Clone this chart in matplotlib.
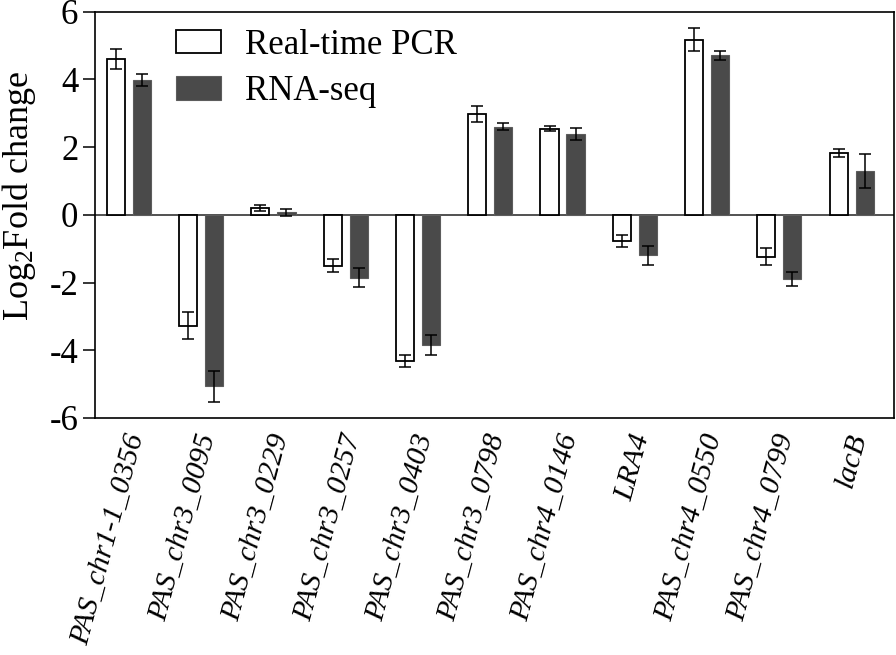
import numpy as np
import matplotlib
matplotlib.use('Agg')
import matplotlib.pyplot as plt

plt.rcParams['font.family'] = 'Liberation Serif'
plt.rcParams['mathtext.fontset'] = 'custom'
plt.rcParams['mathtext.rm'] = 'Liberation Serif'
plt.rcParams['mathtext.it'] = 'Liberation Serif:italic'

#Genes (eixo x)
genes = ['PAS_chr1-1_0356', 'PAS_chr3_0095', 'PAS_chr3_0229', 'PAS_chr3_0257',
         'PAS_chr3_0403', 'PAS_chr3_0798', 'PAS_chr4_0146', 'LRA4',
         'PAS_chr4_0550', 'PAS_chr4_0799', 'lacB']

#Real-time PCR
pcr = [4.6, -3.27, 0.2, -1.5, -4.32, 2.98, 2.55, -0.77, 5.18, -1.24, 1.83]
pcr_err = [0.3, 0.4, 0.1, 0.2, 0.18, 0.25, 0.08, 0.17, 0.35, 0.25, 0.13]

#RNA-seq
rnaseq = [3.98, -5.07, 0.08, -1.86, -3.84, 2.6, 2.38, -1.2, 4.71, -1.9, 1.3]
rnaseq_err = [0.18, 0.45, 0.1, 0.28, 0.3, 0.1, 0.18, 0.27, 0.12, 0.2, 0.5]

yticks = [-6, -4, -2, 0, 2, 4, 6]

x = np.arange(len(genes))
w = 0.25
off = 0.18

fig = plt.figure(figsize=(8.96, 6.55), dpi=100)
ax = fig.add_axes([0.106, 0.362, 0.892, 0.620])

err_kw = dict(ecolor='black', elinewidth=1.1, capsize=4, capthick=1.1)
ax.bar(x - off, pcr, w, yerr=pcr_err, color='white', edgecolor='black',
       linewidth=1.3, label='Real-time PCR', error_kw=err_kw, zorder=2)
ax.bar(x + off, rnaseq, w, yerr=rnaseq_err, color='#4a4a4a', edgecolor='#5c5c5c',
       linewidth=0.8, label='RNA-seq', error_kw=err_kw, zorder=2)

ax.axhline(0, color='#333333', linewidth=1.2, zorder=1)

ax.set_xlim(-0.47, 10.59)
ax.set_ylim(-6, 6)
ax.set_yticks(yticks)
ax.set_yticklabels([str(v) for v in yticks], fontsize=25)
ax.tick_params(axis='y', direction='out', length=9, width=1.1, pad=3)
ax.set_xticks(x + 0.1)
ax.set_xticklabels(genes, rotation=75, ha='right', va='center', rotation_mode='anchor',
                   fontsize=21.5, style='italic')
ax.tick_params(axis='x', length=0, pad=12)
for s in ax.spines.values():
    s.set_linewidth(1.2)

ax.set_ylabel(r'Log$_2$Fold change', fontsize=26)
ax.yaxis.set_label_coords(-0.071, 0.547)

ax.legend(loc='upper left', bbox_to_anchor=(0.066, 1.027), frameon=False,
          fontsize=25, handlelength=1.3, handleheight=0.68,
          handletextpad=0.7, labelspacing=0.4, borderpad=0.3)

plt.savefig('out.png', dpi=100)
plt.close()
